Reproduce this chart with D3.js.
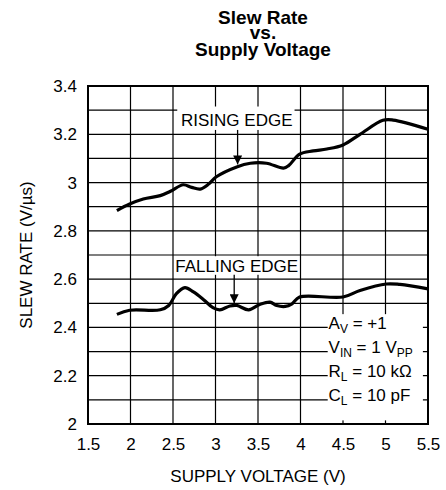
<!DOCTYPE html>
<html>
<head>
<meta charset="utf-8">
<script src="https://cdn.jsdelivr.net/npm/d3@7"></script>
<style>
  body { margin: 0; background: #fff; }
  text { font-family: "Liberation Sans", Arial, sans-serif; fill: #000; }
</style>
</head>
<body>
<div id="chart"></div>
<script>
// data
const xTicks = [1.5, 2, 2.5, 3, 3.5, 4, 4.5, 5, 5.5];
const yTicks = [2, 2.2, 2.4, 2.6, 2.8, 3, 3.2, 3.4];
const yGrid = [2, 2.1, 2.2, 2.3, 2.4, 2.5, 2.6, 2.7, 2.8, 2.9, 3, 3.1, 3.2, 3.3, 3.4];

const risingV  = [1.84, 1.99, 2.15, 2.35, 2.47, 2.62, 2.72, 2.82, 2.92, 3.01, 3.25, 3.41, 3.60, 3.80, 3.86, 3.99, 4.15, 4.31, 4.50, 4.70, 4.97, 5.09, 5.50];
const risingSR = [2.884, 2.911, 2.932, 2.946, 2.964, 2.991, 2.98, 2.973, 2.994, 3.024, 3.065, 3.08, 3.08, 3.06, 3.07, 3.118, 3.131, 3.139, 3.156, 3.20, 3.258, 3.259, 3.221];

const fallingV  = [1.84, 1.99, 2.35, 2.45, 2.54, 2.64, 2.74, 2.86, 2.97, 3.05, 3.17, 3.25, 3.39, 3.52, 3.64, 3.72, 3.82, 3.90, 3.99, 4.50, 4.70, 5.01, 5.17, 5.50];
const fallingSR = [2.454, 2.471, 2.473, 2.491, 2.54, 2.565, 2.547, 2.515, 2.482, 2.473, 2.489, 2.491, 2.473, 2.495, 2.505, 2.491, 2.487, 2.498, 2.526, 2.526, 2.553, 2.58, 2.578, 2.56];

const titleLines = ["Slew Rate", "vs.", "Supply Voltage"];

const svg = d3.select("#chart")
  .append("svg")
  .attr("width", 446)
  .attr("height", 490);

const margin = { top: 86, right: 18, bottom: 66, left: 88 };
const width = 446 - margin.left - margin.right;
const height = 490 - margin.top - margin.bottom;

const chart = svg.append("g")
  .attr("transform", `translate(${margin.left}, ${margin.top})`);

const x = d3.scaleLinear().domain([1.5, 5.5]).range([0, width]);
const y = d3.scaleLinear().domain([2, 3.4]).range([height, 0]);

// title
const titleY = [24, 39, 56];
svg.append("g")
  .selectAll("text")
  .data(titleLines)
  .enter()
  .append("text")
  .attr("x", 263)
  .attr("y", (d, i) => titleY[i])
  .attr("text-anchor", "middle")
  .attr("font-size", "19px")
  .attr("font-weight", "bold")
  .text(d => d);

// grid
chart.append("g")
  .selectAll("line")
  .data(xTicks)
  .enter()
  .append("line")
  .attr("x1", d => x(d)).attr("x2", d => x(d))
  .attr("y1", 0).attr("y2", height)
  .attr("stroke", "#000")
  .attr("stroke-width", 1.2);

chart.append("g")
  .selectAll("line")
  .data(yGrid)
  .enter()
  .append("line")
  .attr("x1", 0).attr("x2", width)
  .attr("y1", d => y(d)).attr("y2", d => y(d))
  .attr("stroke", "#000")
  .attr("stroke-width", 1.2);

// axes (labels only, grid does the lines)
const xAxis = chart.append("g")
  .attr("transform", `translate(0, ${height})`)
  .call(d3.axisBottom(x).tickValues(xTicks).tickSize(0).tickPadding(14).tickFormat(d3.format("")));
xAxis.select(".domain").remove();
xAxis.selectAll("text").attr("font-size", "17px").attr("font-family", "Liberation Sans, Arial, sans-serif");

const yAxis = chart.append("g")
  .call(d3.axisLeft(y).tickValues(yTicks).tickSize(0).tickPadding(11).tickFormat(d3.format("")));
yAxis.select(".domain").remove();
yAxis.selectAll("text").attr("font-size", "17px").attr("font-family", "Liberation Sans, Arial, sans-serif");

chart.append("text")
  .attr("x", width / 2)
  .attr("y", height + 58)
  .attr("text-anchor", "middle")
  .attr("font-size", "17px")
  .text("SUPPLY VOLTAGE (V)");

chart.append("text")
  .attr("transform", "rotate(-90)")
  .attr("x", -height / 2)
  .attr("y", -56)
  .attr("text-anchor", "middle")
  .attr("font-size", "17px")
  .text("SLEW RATE (V/\u00b5s)");

// label boxes that mask the grid
chart.append("rect")
  .attr("x", x(2.55)).attr("y", y(3.315))
  .attr("width", x(3.93) - x(2.55)).attr("height", y(3.218) - y(3.315))
  .attr("fill", "#fff");
chart.append("rect")
  .attr("x", x(2.52)).attr("y", y(2.695))
  .attr("width", x(3.98) - x(2.52)).attr("height", y(2.618) - y(2.695))
  .attr("fill", "#fff");
chart.append("rect")
  .attr("x", x(4.32)).attr("y", y(2.455))
  .attr("width", x(5.44) - x(4.32)).attr("height", y(2.015) - y(2.455))
  .attr("fill", "#fff");

// curves
const line = d3.line()
  .x(d => x(d[0]))
  .y(d => y(d[1]))
  .curve(d3.curveCatmullRom.alpha(0.5));

chart.append("path")
  .datum(d3.zip(risingV, risingSR))
  .attr("d", line)
  .attr("fill", "none")
  .attr("stroke", "#000")
  .attr("stroke-width", 3.2);

chart.append("path")
  .datum(d3.zip(fallingV, fallingSR))
  .attr("d", line)
  .attr("fill", "none")
  .attr("stroke", "#000")
  .attr("stroke-width", 3.2);

// border
chart.append("rect")
  .attr("width", width)
  .attr("height", height)
  .attr("fill", "none")
  .attr("stroke", "#000")
  .attr("stroke-width", 2);

// annotations
chart.append("text")
  .attr("x", x(3.25)).attr("y", y(3.235))
  .attr("text-anchor", "middle")
  .attr("font-size", "17px")
  .text("RISING EDGE");

chart.append("text")
  .attr("x", x(3.25)).attr("y", y(2.628))
  .attr("text-anchor", "middle")
  .attr("font-size", "17px")
  .text("FALLING EDGE");

svg.append("defs").append("marker")
  .attr("id", "arrow")
  .attr("viewBox", "0 0 10 10")
  .attr("refX", 10).attr("refY", 5)
  .attr("markerWidth", 9).attr("markerHeight", 9)
  .attr("markerUnits", "userSpaceOnUse")
  .attr("orient", "auto")
  .append("path")
  .attr("d", "M0,0L10,5L0,10Z")
  .attr("fill", "#000");

chart.append("line")
  .attr("x1", x(3.26)).attr("x2", x(3.26))
  .attr("y1", y(3.218)).attr("y2", y(3.075))
  .attr("stroke", "#000").attr("stroke-width", 1.3)
  .attr("marker-end", "url(#arrow)");

chart.append("line")
  .attr("x1", x(3.22)).attr("x2", x(3.22))
  .attr("y1", y(2.618)).attr("y2", y(2.5))
  .attr("stroke", "#000").attr("stroke-width", 1.3)
  .attr("marker-end", "url(#arrow)");

// test conditions
const cond = [
  { main: "A", sub: "V", rest: " = +1", sub2: "" },
  { main: "V", sub: "IN", rest: " = 1 V", sub2: "PP" },
  { main: "R", sub: "L", rest: " = 10 k\u03a9", sub2: "" },
  { main: "C", sub: "L", rest: " = 10 pF", sub2: "" }
];
const condY = [2.395, 2.295, 2.195, 2.095];

cond.forEach((c, i) => {
  const t = chart.append("text")
    .attr("x", x(4.33))
    .attr("y", y(condY[i]))
    .attr("font-size", "17px");
  t.append("tspan").text(c.main);
  t.append("tspan").attr("font-size", "12px").attr("dy", 4).text(c.sub);
  t.append("tspan").attr("dy", -4).text(c.rest);
  if (c.sub2) t.append("tspan").attr("font-size", "12px").attr("dy", 4).text(c.sub2);
});
</script>
</body>
</html>
